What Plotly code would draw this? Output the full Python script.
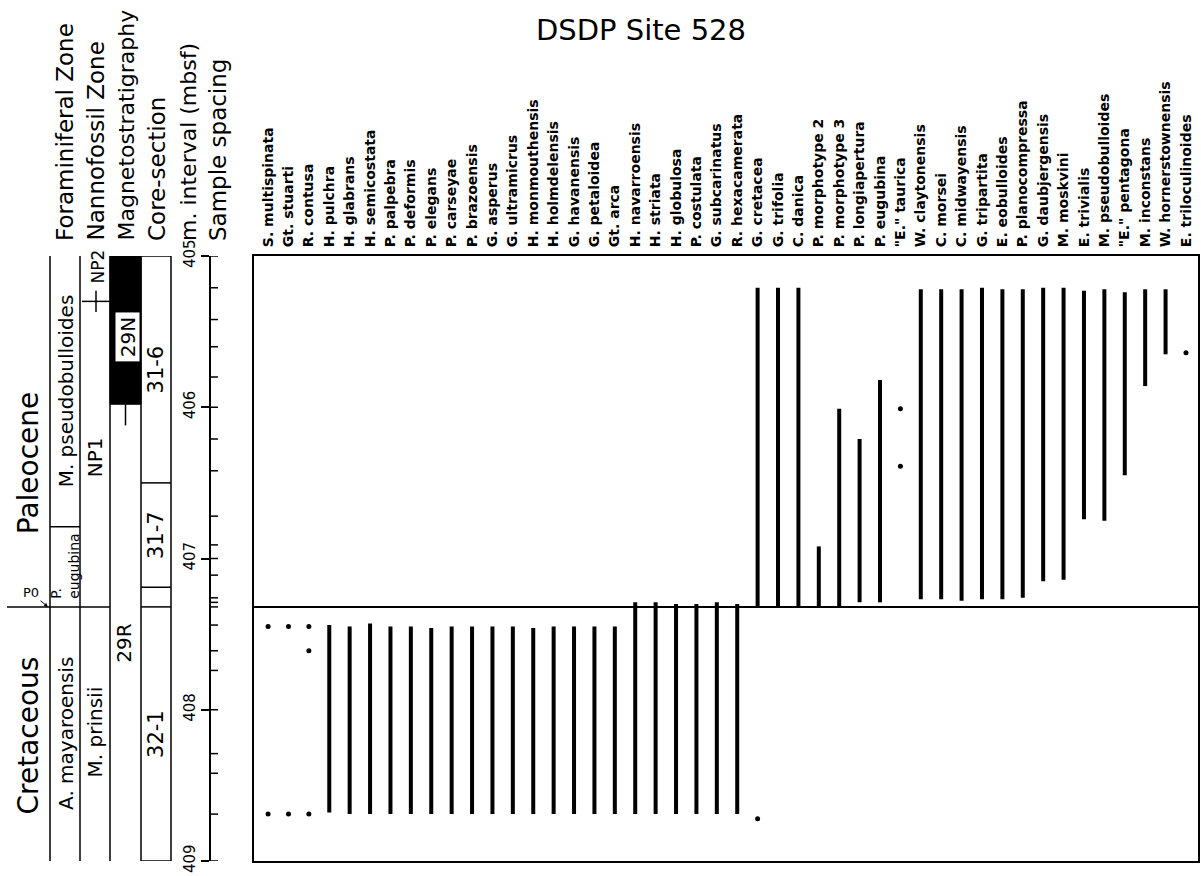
import plotly.graph_objects as go

# ---------------- data ----------------
species = ["S. multispinata", "Gt. stuarti", "R. contusa", "H. pulchra", "H. glabrans",
           "H. semicostata", "P. palpebra", "P. deformis", "P. elegans", "P. carseyae",
           "P. brazoensis", "G. asperus", "G. ultramicrus", "H. monmouthensis",
           "H. holmdelensis", "G. havanensis", "G. petaloidea", "Gt. arca",
           "H. navarroensis", "H. striata", "H. globulosa", "P. costulata",
           "G. subcarinatus", "R. hexacamerata", "G. cretacea", "G. trifolia", "C. danica",
           "P. morphotype 2", "P. morphotype 3", "P. longiapertura", "P. eugubina",
           '"E." taurica', "W. claytonensis", "C. morsei", "C. midwayensis",
           "G. tripartita", "E. eobulloides", "P. planocompressa", "G. daubjergensis",
           "M. moskvini", "E. trivialis", "M. pseudobulloides", '"E." pentagona',
           "M. inconstans", "W. hornerstownensis", "E. triloculinoides"]

# shallowest and deepest occurrence (mbsf); None = only isolated occurrences
range_top = [None, None, None, 407.44, 407.45, 407.43, 407.45, 407.45, 407.46, 407.45,
             407.45, 407.45, 407.45, 407.46, 407.45, 407.45, 407.45, 407.45,
             407.29, 407.29, 407.30, 407.30, 407.29, 407.30, 405.21, 405.21, 405.21,
             406.92, 406.01, 406.21, 405.82, None, 405.22, 405.22, 405.22,
             405.21, 405.22, 405.22, 405.21, 405.21, 405.23, 405.22, 405.24,
             405.22, 405.22, None]
range_base = [None, None, None, 408.68, 408.69, 408.69, 408.69, 408.69, 408.69, 408.69,
              408.69, 408.69, 408.69, 408.69, 408.69, 408.69, 408.69, 408.69,
              408.69, 408.69, 408.69, 408.69, 408.69, 408.69, 407.32, 407.32, 407.32,
              407.32, 407.32, 407.29, 407.29, None, 407.27, 407.27, 407.28,
              407.27, 407.27, 407.26, 407.15, 407.14, 406.74, 406.75, 406.45,
              405.86, 405.65, None]

dot_species = ["S. multispinata", "S. multispinata", "Gt. stuarti", "Gt. stuarti",
               "R. contusa", "R. contusa", "R. contusa", '"E." taurica', '"E." taurica',
               "E. triloculinoides", "G. cretacea"]
dot_depth = [407.45, 408.69, 407.45, 408.69, 407.45, 407.61, 408.69, 406.01, 406.39,
             405.64, 408.72]

kt_boundary = 407.32
sample_depths = [405.21, 405.42, 405.60, 405.80, 406.21, 406.42, 406.72, 406.91, 407.11,
                 407.26, 407.29, 407.32, 407.44, 407.61, 407.74, 408.29, 408.42, 408.69]
depth_ticks = [405, 406, 407, 408, 409]

era_names = ["Paleocene", "Cretaceous"]
era_label_depth = [406.37, 408.17]

foram_zone_names = ["M. pseudobulloides", "P.<br>eugubina", "A. mayaroensis"]
foram_zone_top = [405.0, 406.79, 407.32]
foram_zone_base = [406.79, 407.32, 409.0]

nanno_zone_names = ["NP2", "NP1", "M. prinsii"]
nanno_zone_top = [405.0, 405.30, 407.32]
nanno_zone_base = [405.30, 407.32, 409.0]
nanno_label_depth = [405.07, 406.33, 408.15]

magneto_names = ["29N", "29R"]
magneto_top = [405.0, 405.98]
magneto_base = [405.98, 409.0]
magneto_label_depth = [405.54, 407.56]

core_names = ["31-6", "31-7", "", "32-1"]
core_top = [405.0, 406.50, 407.19, 407.32]
core_base = [406.50, 407.19, 407.32, 409.0]

headers = ["Foraminiferal Zone", "Nannofossil Zone", "Magnetostratigraphy",
           "Core-section", "m. interval (mbsf)", "Sample spacing"]

# ---------------- layout geometry (pixels of the left panel) ----------------
W, H = 1201, 876
ML, MR, MT, MB = 0, 3, 256, 15
PW = W - ML - MR
LEFT_W = 240
ERA_X = 28
FZ = (50, 80)
NZ = (80, 110)
MAG = (110, 141)
CORE = (141, 171)
AXIS_X = 210
header_x = [65, 95, 126, 157, 188, 218]
header_size = [23, 23, 22, 23, 22, 23]
FONT = "DejaVu Sans"

fig = go.Figure()

# range bars
bx, by = [], []
for s, t, b in zip(species, range_top, range_base):
    if t is not None:
        bx += [s, s, None]
        by += [t, b, None]
fig.add_trace(go.Scatter(x=bx, y=by, mode="lines", line=dict(color="black", width=4),
                         xaxis="x", yaxis="y", hoverinfo="skip", showlegend=False))
fig.add_trace(go.Scatter(x=dot_species, y=dot_depth, mode="markers",
                         marker=dict(color="black", size=5), xaxis="x", yaxis="y",
                         hoverinfo="skip", showlegend=False))

# sample spacing ticks (right of the depth axis)
sx, sy = [], []
for d in sample_depths + depth_ticks:
    sx += [AXIS_X, AXIS_X + 8, None]
    sy += [d, d, None]
fig.add_trace(go.Scatter(x=sx, y=sy, mode="lines", line=dict(color="black", width=1.5),
                         xaxis="x2", yaxis="y2", hoverinfo="skip", showlegend=False))

shapes = []
def hline(x0, x1, y, w=1.5):
    shapes.append(dict(type="line", xref="x2", yref="y2", x0=x0, x1=x1, y0=y, y1=y,
                       line=dict(color="black", width=w)))
def vline(x, y0, y1, w=1.5):
    shapes.append(dict(type="line", xref="x2", yref="y2", x0=x, x1=x, y0=y0, y1=y1,
                       line=dict(color="black", width=w)))

# K/T boundary in main panel
shapes.append(dict(type="line", xref="x domain", yref="y", x0=0, x1=1,
                   y0=kt_boundary, y1=kt_boundary, line=dict(color="black", width=2)))

# column borders
for x in (FZ[0], NZ[0], MAG[0]):
    vline(x, 405.0, 409.0)
hline(7, MAG[0], kt_boundary)

# foram zone boundary
hline(FZ[0], FZ[1], foram_zone_base[0])
# nanno NP1/NP2 boundary with uncertainty tick
hline(NZ[0] + 2, NZ[1], nanno_zone_base[0])
vline((NZ[0] + NZ[1]) / 2 + 1, nanno_zone_base[0] - 0.07, nanno_zone_base[0] + 0.07)

# magnetostratigraphy
shapes.append(dict(type="rect", xref="x2", yref="y2", x0=MAG[0], x1=MAG[1],
                   y0=magneto_top[0], y1=magneto_base[0], fillcolor="black",
                   line=dict(color="black", width=1)))
shapes.append(dict(type="rect", xref="x2", yref="y2", x0=MAG[0] + 5, x1=MAG[1] - 1,
                   y0=magneto_label_depth[0] - 0.17, y1=magneto_label_depth[0] + 0.16,
                   fillcolor="white", line=dict(color="black", width=1)))
vline((MAG[0] + MAG[1]) / 2, magneto_base[0] - 0.04, magneto_base[0] + 0.14, w=1.5)

# core sections
shapes.append(dict(type="rect", xref="x2", yref="y2", x0=CORE[0], x1=CORE[1],
                   y0=core_top[0], y1=core_base[-1], line=dict(color="black", width=1.5)))
for b in core_base[:-1]:
    hline(CORE[0], CORE[1], b)

ann = []
def rtext(x, y, text, size, align="center"):
    ann.append(dict(x=x, y=y, xref="x2", yref="y2", text=text, showarrow=False,
                    textangle=-90, align=align,
                    font=dict(family=FONT, size=size, color="black")))

for name, d in zip(era_names, era_label_depth):
    rtext(ERA_X, d, name, 28)
for name, t, b in zip(foram_zone_names, foram_zone_top, foram_zone_base):
    if "<br>" in name:
        rtext((FZ[0] + FZ[1]) / 2, (t + b) / 2, name, 14, align="left")
    else:
        rtext((FZ[0] + FZ[1]) / 2 + 1, (t + b) / 2, name, 20)
for name, d in zip(nanno_zone_names, nanno_label_depth):
    rtext((NZ[0] + NZ[1]) / 2 + (3 if name == "NP2" else 0), d, name,
          17 if name == "NP2" else 20)
for name, d in zip(magneto_names, magneto_label_depth):
    rtext((MAG[0] + MAG[1]) / 2 + (2 if name == "29N" else -1), d, name, 20)
for name, t, b in zip(core_names, core_top, core_base):
    if name:
        rtext((CORE[0] + CORE[1]) / 2, (t + b) / 2, name, 21)

# P0 zone arrow
ann.append(dict(x=FZ[0] - 2, y=kt_boundary, xref="x2", yref="y2", text="P0",
                showarrow=True, ax=-17, ay=-14, arrowhead=2, arrowsize=0.8,
                arrowwidth=1, arrowcolor="black",
                font=dict(family=FONT, size=13, color="black")))

# column headers
hy = 1 + (MT - 243) / (H - MT - MB)
for text, x, sz in zip(headers, header_x, header_size):
    ann.append(dict(x=x, y=hy, xref="x2", yref="paper", text=text, showarrow=False,
                    textangle=-90, yanchor="bottom", xanchor="center",
                    font=dict(family=FONT, size=sz, color="black")))

fig.update_layout(
    width=W, height=H,
    margin=dict(l=ML, r=MR, t=MT, b=MB, pad=0),
    paper_bgcolor="white", plot_bgcolor="white",
    title=dict(text="DSDP Site 528", x=641 / W, y=1 - 30 / H, xref="container",
               yref="container", xanchor="center", yanchor="middle",
               font=dict(family=FONT, size=29, color="black")),
    xaxis=dict(domain=[254 / PW, 1], range=[-0.69, 45.59], type="category",
               categoryorder="array", categoryarray=species, side="top",
               tickangle=-90,
               tickfont=dict(family=FONT, size=14, color="black", weight="bold"),
               showline=True, linecolor="black", linewidth=2, mirror=True,
               showgrid=False, ticks="", ticklabelstandoff=4, automargin=False,
               anchor="y", fixedrange=True),
    yaxis=dict(domain=[0, 1], range=[409, 405], showticklabels=False, showline=True,
               linecolor="black", linewidth=2, mirror=True, showgrid=False,
               zeroline=False, ticks="", anchor="x", fixedrange=True),
    xaxis2=dict(domain=[0, LEFT_W / PW], range=[0, LEFT_W], visible=False,
                anchor="y2", fixedrange=True),
    yaxis2=dict(domain=[0, 1], range=[409, 405], anchor="free", position=AXIS_X / PW,
                showline=True, linecolor="black", linewidth=2, ticks="outside",
                ticklen=8, tickwidth=2, tickcolor="black", tickvals=depth_ticks,
                tickangle=-90, tickfont=dict(family=FONT, size=15, color="black"),
                showgrid=False, zeroline=False, automargin=False, fixedrange=True),
    shapes=shapes,
    annotations=ann,
    showlegend=False,
)

fig.write_html("out.html",
               config={"displayModeBar": False},
               post_script="document.body.style.margin='0';"
                           "document.body.style.overflow='hidden';")
